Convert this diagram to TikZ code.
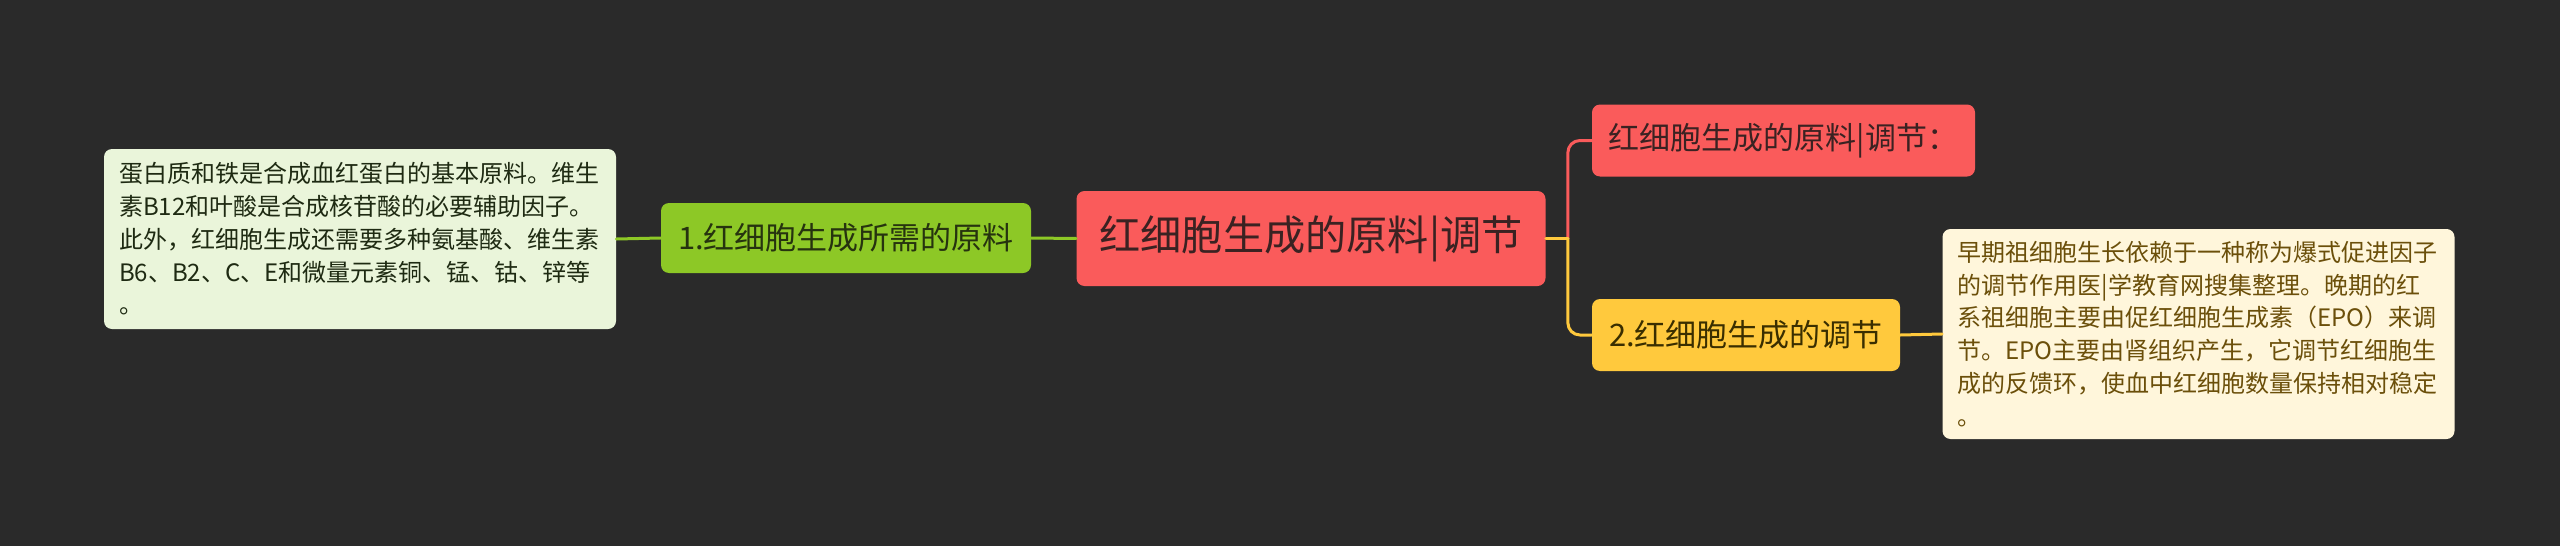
\documentclass[tikz,border=0pt]{standalone}
\usepackage{fontspec}
\setmainfont{Noto Sans CJK SC}
\definecolor{bg}{HTML}{2A2A2A}
\definecolor{redfill}{HTML}{FA5B5B}
\definecolor{redtext}{HTML}{3A2222}
\definecolor{grnfill}{HTML}{8DC826}
\definecolor{grntext}{HTML}{26330F}
\definecolor{ylwfill}{HTML}{FFC93D}
\definecolor{ylwtext}{HTML}{3A2E00}
\definecolor{grnnote}{HTML}{EAF5DA}
\definecolor{grnnotetext}{HTML}{1E2A12}
\definecolor{ylwnote}{HTML}{FFF6DB}
\definecolor{ylwnotetext}{HTML}{6B4F0A}
\begin{document}
\begin{tikzpicture}[x=0.5pt,y=-0.5pt,line join=round,line cap=round,
	topic/.style={rounded corners=4pt,inner sep=0pt,align=center,font=\fontsize{15.5}{18}\selectfont},
	note/.style={rounded corners=4pt,inner xsep=7.5pt,inner ysep=0pt,text width=241pt,align=left,font=\fontsize{12}{16.4}\selectfont},
	link/.style={line width=1.5pt}]
	\useasboundingbox[fill=bg] (0,0) rectangle (2560,546);
	% central topic
	\node[topic,fill=redfill,text=redtext,minimum width=234.5pt,minimum height=47.5pt,font=\fontsize{20.6}{24}\selectfont] (root) at (1311,238.5) {红细胞生成的原料|调节};
	% left branch
	\node[topic,fill=grnfill,text=grntext,minimum width=185pt,minimum height=35pt] (raw) at (846,238) {1.红细胞生成所需的原料};
	\node[note,fill=grnnote,text=grnnotetext,minimum height=90pt] (rawnote) at (360,239) {蛋白质和铁是合成血红蛋白的基本原料。维生\\素B12和叶酸是合成核苷酸的必要辅助因子。\\此外，红细胞生成还需要多种氨基酸、维生素\\B6、B2、C、E和微量元素铜、锰、钴、锌等\\。};
	% right branches
	\node[topic,fill=redfill,text=redtext,minimum width=191.5pt,minimum height=36pt] (regtitle) at (1783.5,140.5) {红细胞生成的原料|调节：};
	\node[topic,fill=ylwfill,text=ylwtext,minimum width=154pt,minimum height=36pt] (reg) at (1746,335) {2.红细胞生成的调节};
	\node[note,fill=ylwnote,text=ylwnotetext,minimum height=105pt] (regnote) at (2198.5,334) {早期祖细胞生长依赖于一种称为爆式促进因子\\的调节作用医|学教育网搜集整理。晚期的红\\系祖细胞主要由促红细胞生成素（EPO）来调\\节。EPO主要由肾组织产生，它调节红细胞生\\成的反馈环，使血中红细胞数量保持相对稳定\\。};
	\coordinate (fork) at ([xshift=11pt]root.east);
	\draw[link,grnfill] (root.west)--(raw.east);
	\draw[link,grnfill] (raw.west)--(rawnote.east);
	\draw[link,redfill,rounded corners=6pt] (fork)|-(regtitle.west);
	\draw[link,ylwfill,rounded corners=6pt] (fork)|-(reg.west);
	\draw[link,ylwfill] (root.east)--(fork);
	\draw[link,ylwfill] (reg.east)--(regnote.west);
\end{tikzpicture}
\end{document}
